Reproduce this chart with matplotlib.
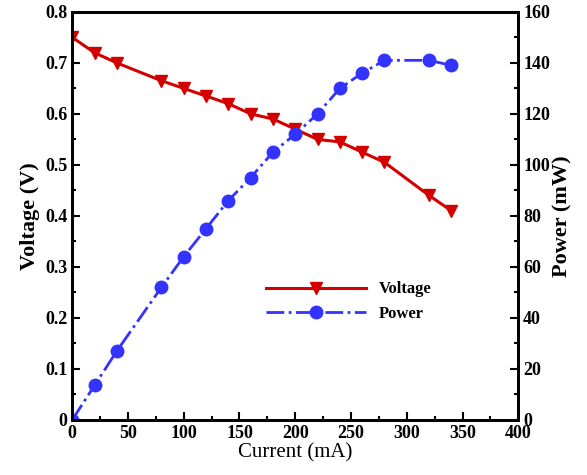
import matplotlib.pyplot as plt
from matplotlib.ticker import MultipleLocator, FuncFormatter

current = [0, 20, 40, 80, 100, 120, 140, 160, 180, 200, 220, 240, 260, 280, 320, 340]
voltage = [0.75, 0.72, 0.70, 0.665, 0.65, 0.635, 0.62, 0.60, 0.59, 0.57,
           0.55, 0.545, 0.525, 0.505, 0.44, 0.41]
power = [0, 13.5, 27, 52, 64, 75, 86, 95, 105, 112, 120, 130, 136, 141, 141, 139]


def main():
    plt.rcParams['font.family'] = 'Liberation Serif'
    plt.rcParams['font.weight'] = 'bold'

    fig = plt.figure(figsize=(5.87, 4.75), dpi=100)
    ax = fig.add_axes([0.123, 0.116, 0.760, 0.859])
    ax2 = ax.twinx()

    l1, = ax.plot(current, voltage, color='#d40000', lw=2.2, marker='v',
                  ms=9, label='Voltage')
    l2, = ax2.plot(current, power, color='#3333ff', lw=2, ls='-.', marker='o',
                   ms=9, label='Power')

    ax.set_xlim(0, 400)
    ax.set_ylim(0, 0.8)
    ax2.set_ylim(0, 160)
    ax.xaxis.set_major_locator(MultipleLocator(50))
    ax.xaxis.set_minor_locator(MultipleLocator(25))
    ax.yaxis.set_major_locator(MultipleLocator(0.1))
    ax.yaxis.set_minor_locator(MultipleLocator(0.05))
    ax.yaxis.set_major_formatter(FuncFormatter(lambda v, p: '0' if abs(v) < 1e-9 else '%.1f' % v))
    ax2.yaxis.set_major_locator(MultipleLocator(20))
    ax2.yaxis.set_minor_locator(MultipleLocator(10))

    for a in (ax, ax2):
        a.tick_params(which='both', direction='in', width=1.5, labelsize=13)
        a.tick_params(which='major', length=6)
        a.tick_params(which='minor', length=3)
        for s in a.spines.values():
            s.set_linewidth(2)
    ax.tick_params(axis='x', which='both', top=False)

    ax.set_xlabel('Current (mA)', fontsize=15, fontweight='normal', labelpad=1)
    ax.set_ylabel('Voltage (V)', fontsize=16, fontweight='bold', labelpad=4)
    ax2.set_ylabel('Power (mW)', fontsize=16, fontweight='bold', labelpad=2)

    ax.legend([l1, l2], ['Voltage', 'Power'], loc='center left',
              bbox_to_anchor=(0.4, 0.29), frameon=False, fontsize=12,
              handlelength=6)

    plt.savefig('out.png', dpi=100)


if __name__ == "__main__":
    main()
